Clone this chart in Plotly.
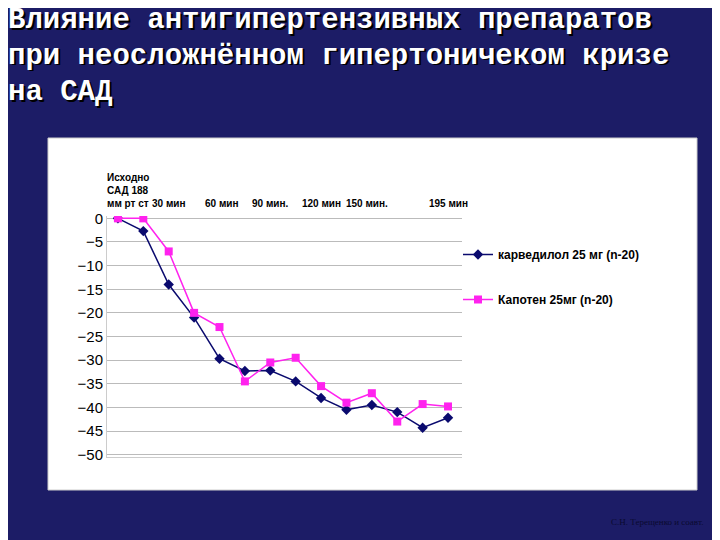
import plotly.graph_objects as go

points = list(range(14))
carvedilol = [0, -2.7, -14, -21, -29.7, -32.3, -32.2, -34.5, -38, -40.5, -39.5, -41, -44.3, -42.2]
kapoten = [0, 0, -7, -20, -23, -34.5, -30.5, -29.5, -35.5, -39, -37, -43, -39.3, -39.8]
yticks = [0, -5, -10, -15, -20, -25, -30, -35, -40, -45, -50]
top_labels = [("Исходно<br>САД 188<br>мм рт ст", 0.4), ("30 мин", 2.0), ("60 мин", 4.1),
              ("90 мин.", 6.0), ("120 мин", 8.0), ("150 мин.", 9.8), ("195 мин", 13.0)]
title_lines = ["Влияние антигипертензивных препаратов",
               "при неосложнённом гипертоничеком кризе",
               "на САД"]

L, R, T, B = 99, 266, 208, 91
PW, PH = 720 - L - R, 540 - T - B
def px(x):  # screenshot px -> paper
    return (x - 8 - L) / PW
def py(y):
    return (540 - B - (y - 8)) / PH

fig = go.Figure()
fig.add_trace(go.Scatter(x=points, y=carvedilol, mode="lines+markers", name="<b>карведилол 25 мг (n-20)</b>",
                         legendgroup="a", line=dict(color="#0a0a6e", width=1.5),
                         marker=dict(symbol="diamond", size=8, color="#0a0a6e")))
fig.add_trace(go.Scatter(x=points, y=kapoten, mode="lines+markers", name="<b>Капотен 25мг (n-20)</b>",
                         legendgroup="b", line=dict(color="#ff22ee", width=1.5),
                         marker=dict(symbol="square", size=8, color="#ff22ee")))

shapes = [
    dict(type="rect", xref="paper", yref="paper", x0=-2, x1=3, y0=-2, y1=3, layer="below",
         fillcolor="#1c1c66", line=dict(width=0)),
    dict(type="rect", xref="paper", yref="paper", x0=px(48), x1=px(697), y0=py(490), y1=py(138),
         layer="below", fillcolor="white", line=dict(color="#cccccc", width=1)),
]
ann = []
for text, x in top_labels:
    ann.append(dict(x=x, y=1.02, xref="x", yref="paper", yanchor="bottom", text="<b>" + text + "</b>",
                    showarrow=False, align="left", font=dict(family="Arial", size=10, color="black")))
for i, t in enumerate(title_lines):
    for dx, dy, col in [(1.5, 1.5, "black"), (0, 0, "white")]:
        ann.append(dict(x=px(6 + dx), y=py(2 + 36 * i + dy), xref="paper", yref="paper",
                        text="<b>" + t + "</b>", showarrow=False, xanchor="left", yanchor="top",
                        font=dict(family="Liberation Mono", size=29, color=col)))
ann.append(dict(x=px(705), y=py(522), xref="paper", yref="paper",
                text="С.Н. Терещенко и соавт.", showarrow=False, xanchor="right", yanchor="middle",
                font=dict(family="Liberation Serif", size=9, color="#0a0a30")))

fig.update_layout(
    width=720, height=540, margin=dict(l=L, r=R, t=T, b=B, autoexpand=False),
    paper_bgcolor="#1c1c66", plot_bgcolor="white", shapes=shapes, annotations=ann,
    showlegend=True,
    legend=dict(x=px(458), y=py(240), xanchor="left", yanchor="top", bgcolor="rgba(0,0,0,0)",
                tracegroupgap=26, font=dict(family="Arial", size=12, color="black")),
    xaxis=dict(range=[-0.43, 13.55], showgrid=False, showticklabels=False, zeroline=False,
               showline=True, linecolor="#cccccc", ticks=""),
    yaxis=dict(range=[-50.5, 0.5], tickvals=yticks, showgrid=True, gridcolor="#bbbbbb", zeroline=False,
               showline=True, linecolor="#cccccc", tickfont=dict(family="Arial", size=15, color="black")),
)
fig.write_html("out.html")
